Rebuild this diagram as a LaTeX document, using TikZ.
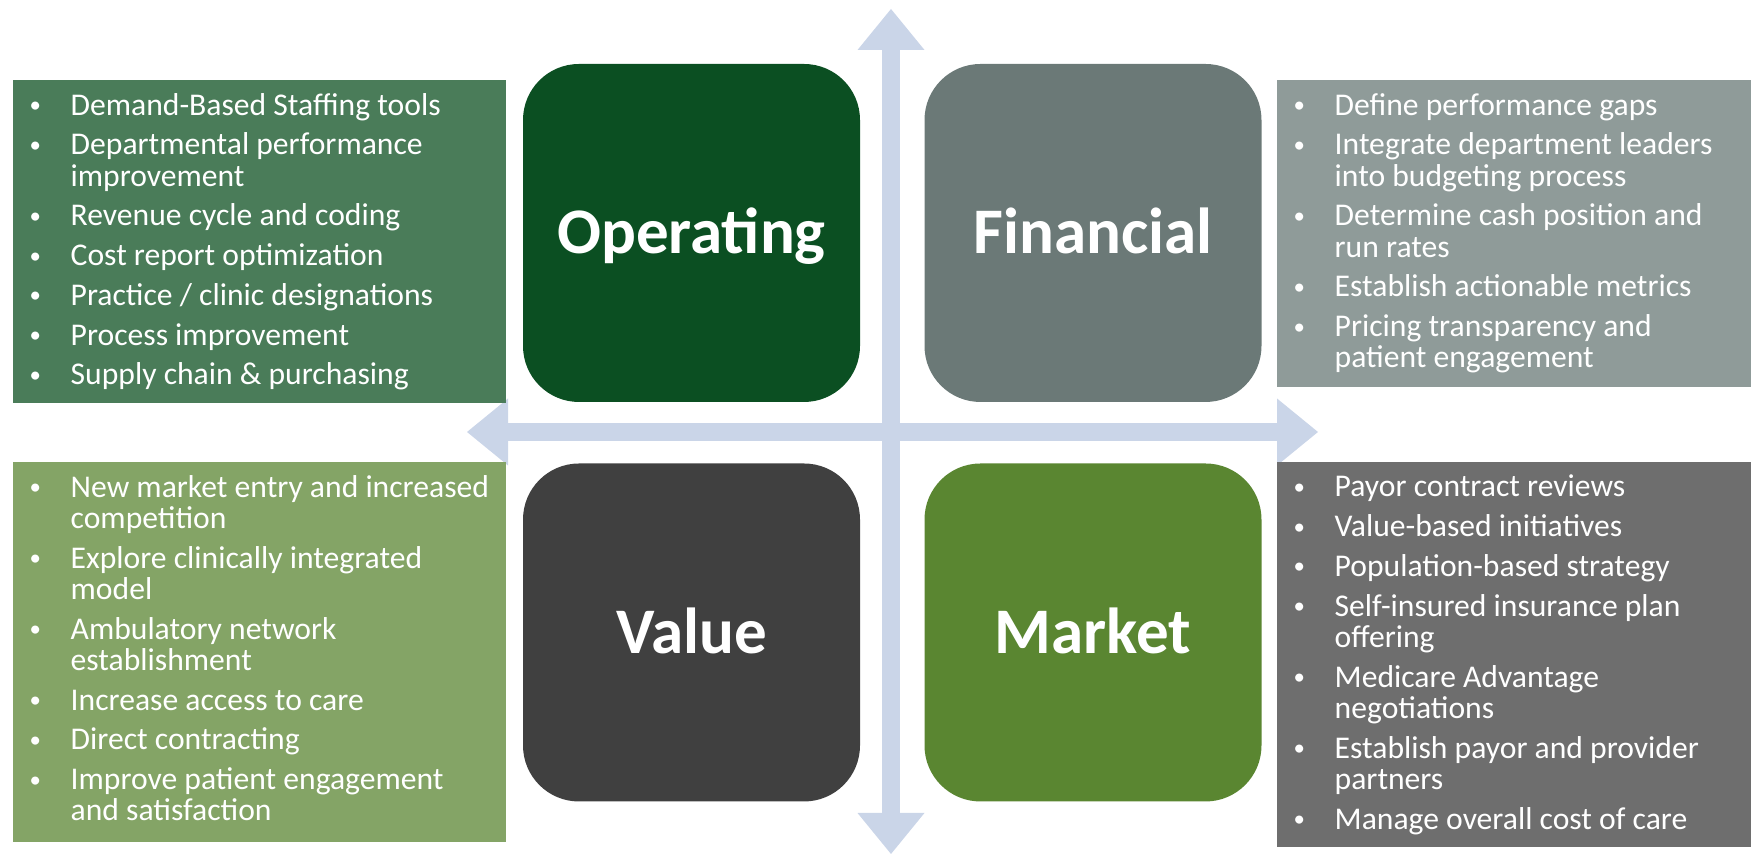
\documentclass[tikz,border=0pt]{standalone}
\usepackage{fontspec}
\setmainfont{Carlito}
\usetikzlibrary{arrows.meta}

\definecolor{opgreen}{HTML}{0B4F22}
\definecolor{fingray}{HTML}{6B7977}
\definecolor{valgray}{HTML}{404040}
\definecolor{mktgreen}{HTML}{5A8631}
\definecolor{opslight}{HTML}{4A7C59}
\definecolor{finlight}{HTML}{8F9B99}
\definecolor{vallight}{HTML}{84A466}
\definecolor{mktlight}{HTML}{6E6E6E}
\definecolor{axisblue}{HTML}{CAD5E8}

\newcommand\bpt{\makebox[4.1mm][l]{\raisebox{0.7pt}{\fontsize{6.5}{6.5}\selectfont\textbullet}}}
\newcommand\bcont{\hspace*{4.1mm}}

\begin{document}
\begin{tikzpicture}
[
  quad/.style={rounded corners=5.6mm,minimum width=3.37cm,minimum height=3.38cm,text=white,font={\fontsize{18.5}{20}\selectfont\bfseries},text height=11.9pt,text depth=0pt},
  pane/.style={anchor=north west,inner sep=0pt},
  items/.style={anchor=north west,inner sep=0pt,align=left,text=white,font={\fontsize{9}{8.9}\selectfont\lineskiplimit=-5pt}},
  axis/.style={line width=1.8mm,draw=axisblue,{Triangle[width=6.7mm,length=4.1mm,line width=0pt]}-{Triangle[width=6.7mm,length=4.1mm,line width=0pt]}}
]

\useasboundingbox (0,0) rectangle (17.51,8.58);

\coordinate (axtop) at (8.91,8.49);
\coordinate (axbot) at (8.91,0.04);
\coordinate (axleft) at (4.67,4.26);
\coordinate (axright) at (13.18,4.26);

\draw[axis] (axbot) -- (axtop);
\draw[axis] (axleft) -- (axright);


\node[pane,fill=opslight,minimum width=4.93cm,minimum height=3.23cm] (opspane) at (0.12,7.79) {};
\node[pane,fill=finlight,minimum width=4.75cm,minimum height=3.07cm] (finpane) at (12.76,7.79) {};
\node[pane,fill=vallight,minimum width=4.93cm,minimum height=3.80cm] (valpane) at (0.12,3.97) {};
\node[pane,fill=mktlight,minimum width=4.75cm,minimum height=3.85cm] (mktpane) at (12.76,3.97) {};


\node[quad,fill=opgreen] (operating) at (6.915,6.25) {Operating};
\node[quad,fill=fingray] (financial) at (10.93,6.25) {Financial};
\node[quad,fill=valgray] (value) at (6.915,2.255) {Value};
\node[quad,fill=mktgreen] (market) at (10.93,2.255) {Market};


\node[items] (opsitems) at ([shift={(0.17,-0.135)}]opspane.north west) {%
\bpt Demand-Based Staffing tools\\[2.4pt]
\bpt Departmental performance\\
\bcont improvement\\[2.4pt]
\bpt Revenue cycle and coding\\[2.4pt]
\bpt Cost report optimization\\[2.4pt]
\bpt Practice / clinic designations\\[2.4pt]
\bpt Process improvement\\[2.4pt]
\bpt Supply chain \& purchasing};

\node[items] (finitems) at ([shift={(0.17,-0.135)}]finpane.north west) {%
\bpt Define performance gaps\\[2.4pt]
\bpt Integrate department leaders\\
\bcont into budgeting process\\[2.4pt]
\bpt Determine cash position and\\
\bcont run rates\\[2.4pt]
\bpt Establish actionable metrics\\[2.4pt]
\bpt Pricing transparency and\\
\bcont patient engagement};

\node[items] (valitems) at ([shift={(0.17,-0.135)}]valpane.north west) {%
\bpt New market entry and increased\\
\bcont competition\\[2.4pt]
\bpt Explore clinically integrated\\
\bcont model\\[2.4pt]
\bpt Ambulatory network\\
\bcont establishment\\[2.4pt]
\bpt Increase access to care\\[2.4pt]
\bpt Direct contracting\\[2.4pt]
\bpt Improve patient engagement\\
\bcont and satisfaction};

\node[items] (mktitems) at ([shift={(0.17,-0.135)}]mktpane.north west) {%
\bpt Payor contract reviews\\[2.4pt]
\bpt Value-based initiatives\\[2.4pt]
\bpt Population-based strategy\\[2.4pt]
\bpt Self-insured insurance plan\\
\bcont offering\\[2.4pt]
\bpt Medicare Advantage\\
\bcont negotiations\\[2.4pt]
\bpt Establish payor and provider\\
\bcont partners\\[2.4pt]
\bpt Manage overall cost of care};
\end{tikzpicture}
\end{document}
